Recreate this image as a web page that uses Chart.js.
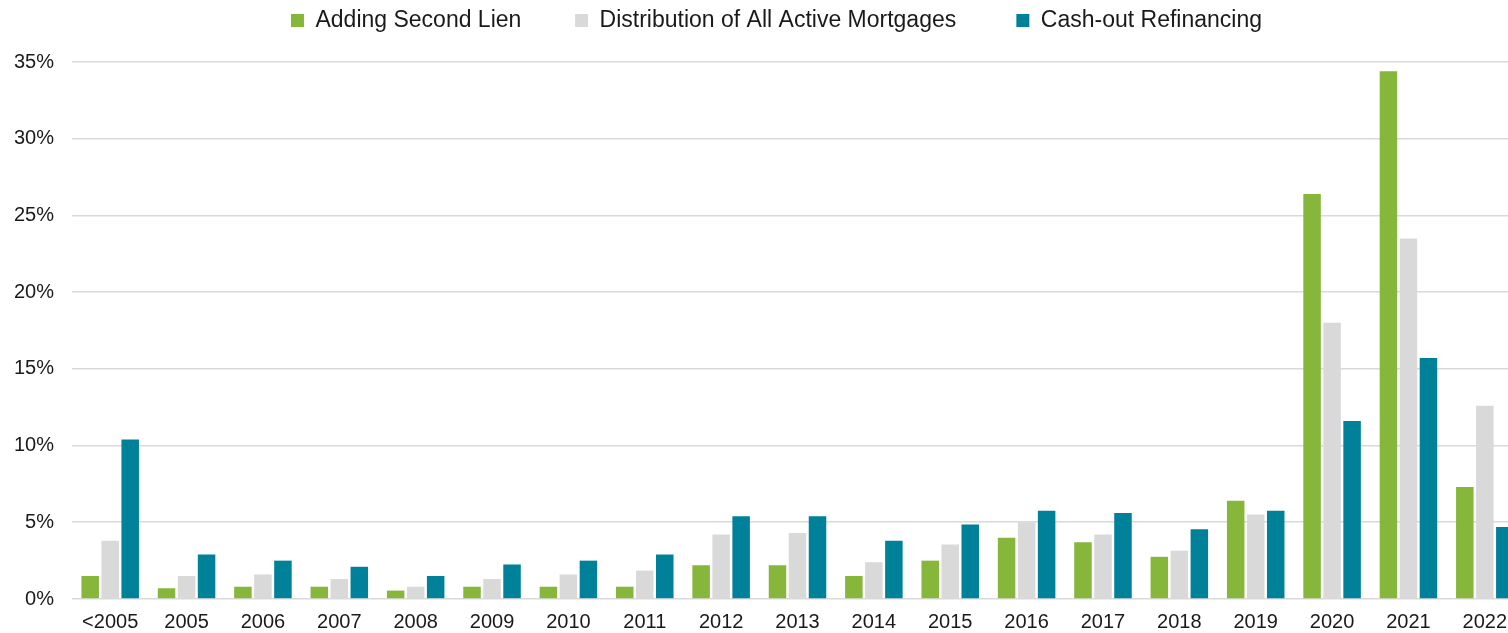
<!DOCTYPE html>
<html>
<head>
<meta charset="utf-8">
<script src="https://cdn.jsdelivr.net/npm/chart.js@4"></script>
<style>
  html, body { margin: 0; padding: 0; background: #fff; overflow: hidden; }
  #wrap { width: 1508px; height: 633px; overflow: hidden; }
</style>
</head>
<body>
<div id="wrap">
  <canvas id="vintageChart" width="1583" height="633"></canvas>
</div>
<script>
// origination year buckets
const years = ['<2005', '2005', '2006', '2007', '2008', '2009', '2010', '2011', '2012', '2013',
  '2014', '2015', '2016', '2017', '2018', '2019', '2020', '2021', '2022'];

// share of loans (%) by vintage
const secondLien = [1.5, 0.7, 0.8, 0.8, 0.55, 0.8, 0.8, 0.8, 2.2, 2.2,
  1.5, 2.5, 4.0, 3.7, 2.75, 6.4, 26.4, 34.4, 7.3];
const allActive = [3.8, 1.5, 1.6, 1.3, 0.8, 1.3, 1.6, 1.85, 4.2, 4.3,
  2.4, 3.55, 5.0, 4.2, 3.15, 5.5, 18.0, 23.5, 12.6];
const cashOut = [10.4, 2.9, 2.5, 2.1, 1.5, 2.25, 2.5, 2.9, 5.4, 5.4,
  3.8, 4.85, 5.75, 5.6, 4.55, 5.75, 11.6, 15.7, 4.7];

const yTicks = [0, 5, 10, 15, 20, 25, 30, 35];

const fontFamily = '"Liberation Sans", Arial, sans-serif';

// leave a gap under the legend and nudge it right a little
const legendGap = {
  id: 'legendGap',
  beforeInit(chart) {
    const fit = chart.legend.fit;
    chart.legend.fit = function () {
      fit.bind(chart.legend)();
      this.height = 62;
    };
  },
  afterLayout(chart) {
    chart.legend.left += 30;
  }
};

const ctx = document.getElementById('vintageChart').getContext('2d');
const chart = new Chart(ctx, {
  type: 'bar',
  data: {
    labels: years,
    datasets: [
      { label: 'Adding Second Lien', data: secondLien, backgroundColor: '#86b73b' },
      { label: 'Distribution of All Active Mortgages', data: allActive, backgroundColor: '#d9d9d9' },
      { label: 'Cash-out Refinancing', data: cashOut, backgroundColor: '#00819a' }
    ]
  },
  plugins: [legendGap],
  options: {
    responsive: false,
    animation: false,
    devicePixelRatio: 1,
    layout: { padding: { top: 0, right: 60, bottom: 0, left: 0 } },
    datasets: {
      bar: { categoryPercentage: 0.786, barPercentage: 0.875, borderWidth: 0 }
    },
    plugins: {
      tooltip: { enabled: false },
      legend: {
        position: 'top',
        align: 'center',
        labels: {
          boxWidth: 13,
          boxHeight: 13,
          padding: 9,
          color: '#1a1a1a',
          font: { family: fontFamily, size: 23 },
          // extra room between legend entries, like the original
          generateLabels: (c) => {
            const items = Chart.defaults.plugins.legend.labels.generateLabels(c);
            const gaps = [7, 8, 0];
            items.forEach((it, i) => { it.text = it.text + ' '.repeat(gaps[i]); });
            return items;
          }
        }
      }
    },
    scales: {
      x: {
        afterFit: (scale) => { scale.height = 34; },
        grid: { display: false, drawTicks: false },
        border: { display: false },
        ticks: {
          color: '#1a1a1a',
          padding: 11,
          maxRotation: 0,
          autoSkip: false,
          font: { family: fontFamily, size: 20 }
        }
      },
      y: {
        min: yTicks[0],
        max: yTicks[yTicks.length - 1],
        afterFit: (scale) => { scale.width = 72; },
        afterBuildTicks: (scale) => { scale.ticks = yTicks.map(v => ({ value: v })); },
        grid: { color: '#d9d9d9', lineWidth: 1.6, drawTicks: false },
        border: { display: false },
        ticks: {
          color: '#1a1a1a',
          padding: 18,
          font: { family: fontFamily, size: 20 },
          callback: (v) => v + '%'
        }
      }
    }
  }
});
</script>
</body>
</html>
